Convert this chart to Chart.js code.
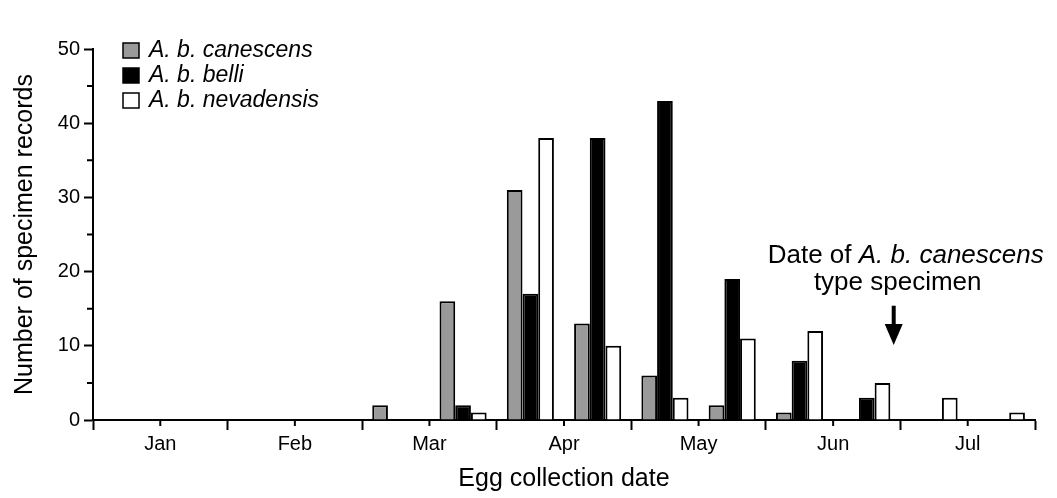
<!DOCTYPE html>
<html>
<head>
<meta charset="utf-8">
<script src="https://cdn.jsdelivr.net/npm/chart.js@4.4.1/dist/chart.umd.min.js"></script>
<style>
  html, body { margin: 0; padding: 0; background: #fff; }
</style>
</head>
<body>
<canvas id="myChart" width="1057" height="498"></canvas>
<script>
// half-month collection periods, Jan-Jul
const months = ['Jan', 'Feb', 'Mar', 'Apr', 'May', 'Jun', 'Jul'];
const periods = ['Jan 1-15', 'Jan 16-31', 'Feb 1-15', 'Feb 16-28', 'Mar 1-15', 'Mar 16-31',
    'Apr 1-15', 'Apr 16-30', 'May 1-15', 'May 16-31', 'Jun 1-15', 'Jun 16-30', 'Jul 1-15', 'Jul 16-31'];
const canescens = [0, 0, 0, 0, 2, 16, 31, 13, 6, 2, 1, 0, 0, 0];
const belli = [0, 0, 0, 0, 0, 2, 17, 38, 43, 19, 8, 3, 0, 0];
const nevadensis = [0, 0, 0, 0, 0, 1, 38, 10, 3, 11, 12, 5, 3, 1];
const yLabels = [0, 10, 20, 30, 40, 50];
const typeSpecimenPos = 11.9; // ~Jun 29, in half-month units from Jan 1

const FONT = '"Liberation Sans", Arial, sans-serif';

// short ticks between the labelled ones
const minorTicks = {
    id: 'minorTicks',
    afterDraw(chart) {
        const ctx = chart.ctx;
        const xm = chart.scales.xm, y = chart.scales.y;
        ctx.save();
        ctx.strokeStyle = '#000';
        ctx.lineWidth = 2;
        ctx.beginPath();
        for (let v = 1; v < 14; v += 2) {
            const px = xm.getPixelForValue(v);
            ctx.moveTo(px, xm.top);
            ctx.lineTo(px, xm.top + 6);
        }
        for (let v = 5; v < 50; v += 10) {
            const py = y.getPixelForValue(v);
            ctx.moveTo(y.right, py);
            ctx.lineTo(y.right - 6, py);
        }
        ctx.stroke();
        ctx.restore();
    }
};

const insideLegend = {
    id: 'insideLegend',
    afterDraw(chart) {
        const ctx = chart.ctx, area = chart.chartArea;
        ctx.save();
        ctx.font = 'italic 23px ' + FONT;
        ctx.textBaseline = 'middle';
        chart.data.datasets.forEach(function(ds, i) {
            const x = area.left + 30;
            const y = area.top - 6 + i * 25;
            ctx.fillStyle = ds.backgroundColor;
            ctx.fillRect(x, y, 16, 15);
            ctx.strokeStyle = '#000';
            ctx.lineWidth = 1.5;
            ctx.strokeRect(x, y, 16, 15);
            ctx.fillStyle = '#000';
            ctx.fillText(ds.label, x + 26, y + 8);
        });
        ctx.restore();
    }
};

const typeNote = {
    id: 'typeNote',
    afterDraw(chart) {
        const ctx = chart.ctx;
        const xm = chart.scales.xm, y = chart.scales.y;
        const ax = xm.getPixelForValue(typeSpecimenPos);
        ctx.save();
        ctx.fillStyle = '#000';
        ctx.textBaseline = 'alphabetic';

        const part1 = 'Date of ', part2 = 'A. b. canescens';
        ctx.font = '26px ' + FONT;
        const w1 = ctx.measureText(part1).width;
        ctx.font = 'italic 26px ' + FONT;
        const w2 = ctx.measureText(part2).width;
        const x0 = ax + 12 - (w1 + w2) / 2;
        const b1 = y.getPixelForValue(21.2);
        ctx.font = '26px ' + FONT;
        ctx.fillText(part1, x0, b1);
        ctx.font = 'italic 26px ' + FONT;
        ctx.fillText(part2, x0 + w1, b1);

        ctx.font = '26px ' + FONT;
        ctx.textAlign = 'center';
        ctx.fillText('type specimen', ax + 4, y.getPixelForValue(17.5));

        // arrow
        const top = y.getPixelForValue(15.4), tip = y.getPixelForValue(10.1);
        ctx.fillRect(ax - 2, top, 4, tip - top - 14);
        ctx.beginPath();
        ctx.moveTo(ax - 9, tip - 21);
        ctx.lineTo(ax + 9, tip - 21);
        ctx.lineTo(ax, tip);
        ctx.closePath();
        ctx.fill();
        ctx.restore();
    }
};

function tickIs(c, test) {
    return c.tick && test(c.tick.value) ? '#000' : 'rgba(0,0,0,0)';
}

const ctx = document.getElementById('myChart').getContext('2d');
const myChart = new Chart(ctx, {
    type: 'bar',
    data: {
        labels: periods,
        datasets: [{
            label: 'A. b. canescens',
            data: canescens,
            backgroundColor: '#9a9a9a'
        }, {
            label: 'A. b. belli',
            data: belli,
            backgroundColor: '#000000'
        }, {
            label: 'A. b. nevadensis',
            data: nevadensis,
            backgroundColor: '#ffffff'
        }]
    },
    options: {
        responsive: false,
        animation: false,
        devicePixelRatio: 1,
        layout: { padding: { top: 49, right: 22, left: 0, bottom: 0 } },
        datasets: {
            bar: {
                borderColor: '#000',
                borderWidth: 2,
                categoryPercentage: 0.7,
                barPercentage: 1.0,
                xAxisID: 'x',
                yAxisID: 'y'
            }
        },
        plugins: {
            legend: { display: false },
            tooltip: { enabled: false }
        },
        scales: {
            x: {
                type: 'category',
                display: false,
                offset: true
            },
            xm: {
                type: 'linear',
                position: 'bottom',
                min: 0,
                max: 14,
                offset: false,
                afterBuildTicks: function(scale) {
                    scale.ticks = [];
                    for (let i = 0; i <= 14; i++) scale.ticks.push({ value: i });
                },
                afterFit: function(scale) { scale.height = 78; },
                ticks: {
                    autoSkip: false,
                    maxRotation: 0,
                    padding: 2,
                    color: '#000',
                    font: { family: FONT, size: 20 },
                    callback: function(v) {
                        const i = Math.round(v);
                        return i % 2 === 1 ? months[(i - 1) / 2] : '';
                    }
                },
                grid: {
                    offset: false,
                    drawOnChartArea: false,
                    tickLength: 10,
                    tickWidth: 2,
                    tickColor: function(c) {
                        return tickIs(c, function(v) { return Math.round(v) % 2 === 0; });
                    }
                },
                border: { color: '#000', width: 2 },
                title: {
                    display: true,
                    text: 'Egg collection date',
                    color: '#000',
                    font: { family: FONT, size: 25 },
                    padding: { top: 0, bottom: 4 }
                }
            },
            y: {
                min: 0,
                max: 50,
                afterFit: function(scale) { scale.width = 93; },
                ticks: {
                    stepSize: 5,
                    padding: 4,
                    color: '#000',
                    font: { family: FONT, size: 20 },
                    callback: function(v) { return yLabels.includes(v) ? v : ''; }
                },
                grid: {
                    drawOnChartArea: false,
                    tickLength: 9,
                    tickWidth: 2,
                    tickColor: function(c) {
                        return tickIs(c, function(v) { return yLabels.includes(v); });
                    }
                },
                border: { color: '#000', width: 2 },
                title: {
                    display: true,
                    text: 'Number of specimen records',
                    color: '#000',
                    font: { family: FONT, size: 25 },
                    padding: { top: 10, bottom: 0 }
                }
            }
        }
    },
    plugins: [minorTicks, insideLegend, typeNote]
});
</script>
</body>
</html>
